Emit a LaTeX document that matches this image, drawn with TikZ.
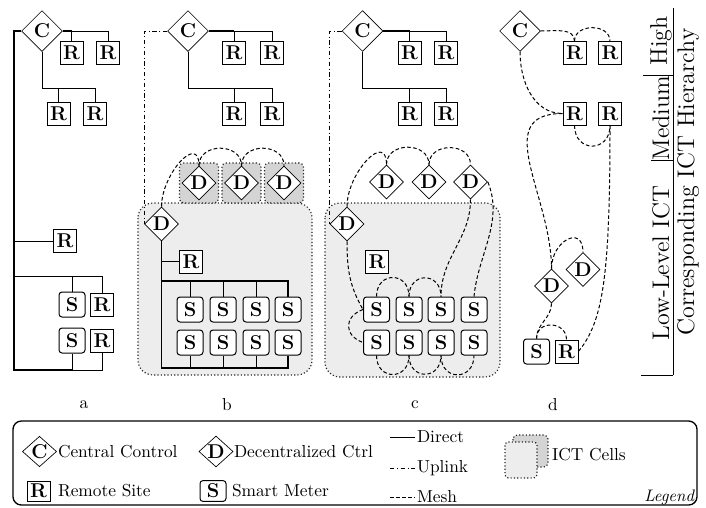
\documentclass[tikz,border=0pt]{standalone}
\usepackage{tikz}
\usetikzlibrary{shapes.geometric,backgrounds}
\newcommand{\legfont}{\fontsize{10.4}{12.5}\selectfont}
\tikzset{
  ctrl/.style={diamond, draw, fill=white, inner sep=0pt, minimum size=24.5pt, font=\large\bfseries},
  dctrl/.style={diamond, draw, fill=white, inner sep=0pt, minimum size=20.5pt, font=\large\bfseries},
  rsite/.style={draw, fill=white, inner sep=0pt, minimum size=13.8pt, font=\large\bfseries},
  smeter/.style={draw, semithick, fill=white, rounded corners=1.8pt, inner sep=0pt,
                 minimum width=15.6pt, minimum height=15pt, font=\large\bfseries},
  direct/.style={semithick},
  spine/.style={line width=1.1pt},
  uplink/.style={semithick, dash pattern=on 2.6pt off 1.6pt on 0.6pt off 1.6pt},
  mesh/.style={semithick, dash pattern=on 2.2pt off 1.4pt},
  cellbig/.style={fill=black!7, draw=black!85, line width=0.7pt, dash pattern=on 0.7pt off 1.3pt, rounded corners=9pt},
  cellsmall/.style={fill=black!17, draw=black!85, line width=0.7pt, dash pattern=on 0.7pt off 1.3pt, rounded corners=2.5pt},
  legtext/.style={anchor=west, inner sep=1pt, font=\legfont},
  panel/.style={font=\legfont},
  level/.style={rotate=90, font=\Large},
}
\begin{document}
\begin{tikzpicture}[x=0.6pt,y=0.6pt]
    \useasboundingbox (0,0) rectangle (706,-507);
    % panel a
    \node[ctrl] (Ca) at (42,-31) {C};
    \node[rsite] (Ra1) at (71.5,-52.5) {R};
    \node[rsite] (Ra2) at (108,-52.5) {R};
    \node[rsite] (Ra3) at (58.5,-114) {R};
    \node[rsite] (Ra4) at (95,-114) {R};
    \node[rsite] (Ra5) at (65,-241) {R};
    \node[smeter] (Sa1) at (72,-304.5) {S};
    \node[rsite] (Ra6) at (102,-304.5) {R};
    \node[smeter] (Sa2) at (72,-340.5) {S};
    \node[rsite] (Ra7) at (102,-340.5) {R};
    \coordinate (ja) at (42,-88);
    \coordinate (ka) at (14,-276);
    \coordinate (sa) at (14,-370);
    \draw[spine] (Ca.west) -| (sa) -- (Sa2.south |- sa);
    \draw[direct] (Sa2.south |- sa) -| (Ra7.south);
    \draw[direct] (Sa2.south) -- (Sa2.south |- sa);
    \draw[spine] (Ca.east) -- (Ra1.north |- Ca.east);
    \draw[direct] (Ra1.north |- Ca.east) -| (Ra2.north);
    \draw[direct] (Ra1.north) -- (Ra1.north |- Ca.east);
    \draw[direct] (Ca.south) -- (ja) -| (Ra4.north);
    \draw[direct] (Ra3.north) -- (Ra3.north |- ja);
    \draw[direct] (Ra5.west) -- (Ra5.west -| sa);
    \draw[direct] (ka) -| (Ra6.north);
    \draw[direct] (Sa1.north) -- (Sa1.north |- ka);
    \node[panel] (la) at (84,-405) {a};
    % panel b
    \node[ctrl] (Cb) at (188,-31) {C};
    \node[rsite] (Rb1) at (234,-52.5) {R};
    \node[rsite] (Rb2) at (272,-52.5) {R};
    \node[rsite] (Rb3) at (234,-114) {R};
    \node[rsite] (Rb4) at (272,-114) {R};
    \foreach \i/\x in {1/199,2/241.5,3/284} \node[dctrl] (Db\i) at (\x,-183) {D};
    \node[dctrl] (Db) at (161.5,-224) {D};
    \node[rsite] (Rb5) at (191,-261.5) {R};
    \foreach \i/\x in {1/190,2/223,3/256,4/288} {
      \node[smeter] (Sbu\i) at (\x,-309.5) {S};
      \node[smeter] (Sbl\i) at (\x,-342.5) {S};
    }
    \coordinate (jb) at (188,-88);
    \coordinate (kb) at (161.5,-281);
    \coordinate (sb) at (161.5,-368);
    \draw[spine] (Cb.east) -- (Rb1.north |- Cb.east);
    \draw[direct] (Rb1.north |- Cb.east) -| (Rb2.north);
    \draw[direct] (Rb1.north) -- (Rb1.north |- Cb.east);
    \draw[direct] (Cb.south) -- (jb) -| (Rb4.north);
    \draw[direct] (Rb3.north) -- (Rb3.north |- jb);
    \draw[spine] (Db.south) -- (sb) -| (Sbl4.south);
    \draw[spine] (kb) -| (Sbu4.north);
    \foreach \i in {1,2,3} {
      \draw[direct] (Sbu\i.north) -- (Sbu\i.north |- kb);
      \draw[direct] (Sbl\i.south) -- (Sbl\i.south |- sb);
    }
    \draw[direct] (Rb5.west) -- (Rb5.west -| sb);
    \draw[uplink] (Cb.west) -| (Db.west);
    \draw[mesh] (Db.north) to[out=90,in=90,looseness=1.5] (Db1.north);
    \draw[mesh] (Db1.north) to[out=90,in=90,looseness=1.4] (Db2.north);
    \draw[mesh] (Db2.north) to[out=90,in=90,looseness=1.4] (Db3.north);
    \node[panel] (lb) at (227,-405) {b};
    % panel c
    \node[ctrl] (Cc) at (362.5,-31) {C};
    \node[rsite] (Rc1) at (409.5,-52.5) {R};
    \node[rsite] (Rc2) at (446,-52.5) {R};
    \node[rsite] (Rc3) at (409.5,-114) {R};
    \node[rsite] (Rc4) at (446,-114) {R};
    \foreach \i/\x in {1/386.5,2/429,3/470.5} \node[dctrl] (Dc\i) at (\x,-182) {D};
    \node[dctrl] (Dc) at (347,-224) {D};
    \node[rsite] (Rc5) at (377,-261.5) {R};
    \foreach \i/\x in {1/376.5,2/409,3/441,4/474} {
      \node[smeter] (Scu\i) at (\x,-309.5) {S};
      \node[smeter] (Scl\i) at (\x,-342.5) {S};
    }
    \coordinate (jc) at (362.5,-88);
    \draw[spine] (Cc.east) -- (Rc1.north |- Cc.east);
    \draw[direct] (Rc1.north |- Cc.east) -| (Rc2.north);
    \draw[direct] (Rc1.north) -- (Rc1.north |- Cc.east);
    \draw[direct] (Cc.south) -- (jc) -| (Rc4.north);
    \draw[direct] (Rc3.north) -- (Rc3.north |- jc);
    \draw[uplink] (Cc.west) -| (Dc.west);
    \draw[mesh] (Dc.north) to[out=90,in=90,looseness=1.5] (Dc1.north);
    \draw[mesh] (Dc1.north) to[out=90,in=90,looseness=1.4] (Dc2.north);
    \draw[mesh] (Dc2.north) to[out=90,in=90,looseness=1.4] (Dc3.north);
    \draw[mesh] (Dc3.east) .. controls +(16,-40) and +(4,42) .. (Scu4.north);
    \draw[mesh] (Dc3.south) to[out=-90,in=90] (Scu3.north);
    \draw[mesh] (Dc.south) to[out=-90,in=120] (Scu1.west);
    \draw[mesh] (Scu1.west) to[out=200,in=160,looseness=1.6] (Scl1.west);
    \draw[mesh] (Scu1.north) to[out=90,in=90,looseness=2] (Scu2.north);
    \draw[mesh] (Scu2.north) to[out=90,in=90,looseness=2] (Scu3.north);
    \foreach \i/\j in {1/2,2/3,3/4} \draw[mesh] (Scl\i.south) to[out=-90,in=-90,looseness=2] (Scl\j.south);
    \node[panel] (lc) at (415,-405) {c};
    % panel d
    \node[ctrl] (Cd) at (520,-31) {C};
    \node[rsite] (Rd1) at (574.5,-53) {R};
    \node[rsite] (Rd2) at (610,-53) {R};
    \node[rsite] (Rd3) at (574.5,-113.5) {R};
    \node[rsite] (Rd4) at (610,-113.5) {R};
    \node[dctrl] (Dd1) at (551.5,-286) {D};
    \node[dctrl] (Dd2) at (583,-269.5) {D};
    \node[smeter] (Sd) at (536.5,-351.5) {S};
    \node[rsite] (Rd5) at (566.5,-351.5) {R};
    \draw[mesh] (Cd.east) to[out=0,in=90] (Rd1.north);
    \draw[mesh] (Rd1.north) to[out=90,in=90,looseness=1.3] (Rd2.north);
    \draw[mesh] (Cd.south) to[out=-90,in=180] (Rd3.west);
    \draw[mesh] (Rd3.south) to[out=-90,in=-90,looseness=2] (Rd4.south);
    \draw[mesh] (Rd3.west) to[out=180,in=90,looseness=1.2] (Dd1.north);
    \draw[mesh] (Dd1.north) to[out=90,in=90,looseness=2] (Dd2.north);
    \draw[mesh] (Dd1.south) to[out=-90,in=90] (Sd.north);
    \draw[mesh] (Sd.north) to[out=90,in=90,looseness=1.6] (Rd5.north);
    \draw[mesh] (Rd4.south) .. controls +(0,-150) and +(25,30) .. (Rd5.east);
    \node[panel] (ld) at (553,-405) {d};
    % ICT cells
    \begin{scope}[on background layer]
      \draw[cellbig] (138,-203) rectangle (312,-375);
      \draw[cellbig] (325,-203) rectangle (500,-377);
      \foreach \i in {1,2,3} \node[cellsmall, minimum width=23.4pt, minimum height=24pt] (cb\i) at (Db\i) {};
    \end{scope}
    % hierarchy
    \coordinate (h0) at (673,-8);
    \coordinate (h1) at (673,-75);
    \coordinate (h2) at (673,-160);
    \coordinate (h3) at (673,-375);
    \draw (h0) -- (h3);
    \draw (h1) -- ++(-30,0);
    \draw (h2) -- ++(-22,0);
    \draw (h3) -- ++(-32,0);
    \node[level] (lvh) at (661,-41) {High};
    \node[level] (lvm) at (661,-118) {Medium};
    \node[level] (lvl) at (661,-263) {Low-Level ICT};
    \node[level] (lvc) at (688,-182) {Corresponding ICT Hierarchy};
    % legend
    \draw[thick, rounded corners=5pt] (13,-421) rectangle (697,-505);
    \node[ctrl, minimum width=20.5pt, minimum height=17pt] (lgC) at (39.5,-451.5) {C};
    \node[legtext] (lgCt) at (56,-451.5) {Central Control};
    \node[dctrl, minimum width=20.5pt, minimum height=17pt] (lgD) at (216,-451.5) {D};
    \node[legtext] (lgDt) at (232,-451.5) {Decentralized Ctrl};
    \node[rsite, minimum height=12pt] (lgR) at (38.5,-491) {R};
    \node[legtext] (lgRt) at (56,-491) {Remote Site};
    \node[smeter, minimum height=12.5pt] (lgS) at (213,-491) {S};
    \node[legtext] (lgSt) at (230,-491) {Smart Meter};
    \coordinate (lg1a) at (390,-437); \coordinate (lg1b) at (415,-437);
    \coordinate (lg2a) at (390,-468); \coordinate (lg2b) at (415,-468);
    \coordinate (lg3a) at (390,-497); \coordinate (lg3b) at (415,-497);
    \draw[direct] (lg1a) -- (lg1b);
    \draw[uplink] (lg2a) -- (lg2b);
    \draw[mesh] (lg3a) -- (lg3b);
    \node[legtext] (lg1t) at (lg1b) {Direct};
    \node[legtext] (lg2t) at (lg2b) {Uplink};
    \node[legtext] (lg3t) at (lg3b) {Mesh};
    \draw[cellsmall] (513,-435) rectangle (548,-467);
    \draw[cellbig, rounded corners=2pt] (505,-442) rectangle (537,-478);
    \node[legtext] (lgct) at (550,-455) {ICT Cells};
    \node[anchor=east, font=\itshape, inner sep=1pt] (lgl) at (696,-497) {Legend};
  \end{tikzpicture}
\end{document}
